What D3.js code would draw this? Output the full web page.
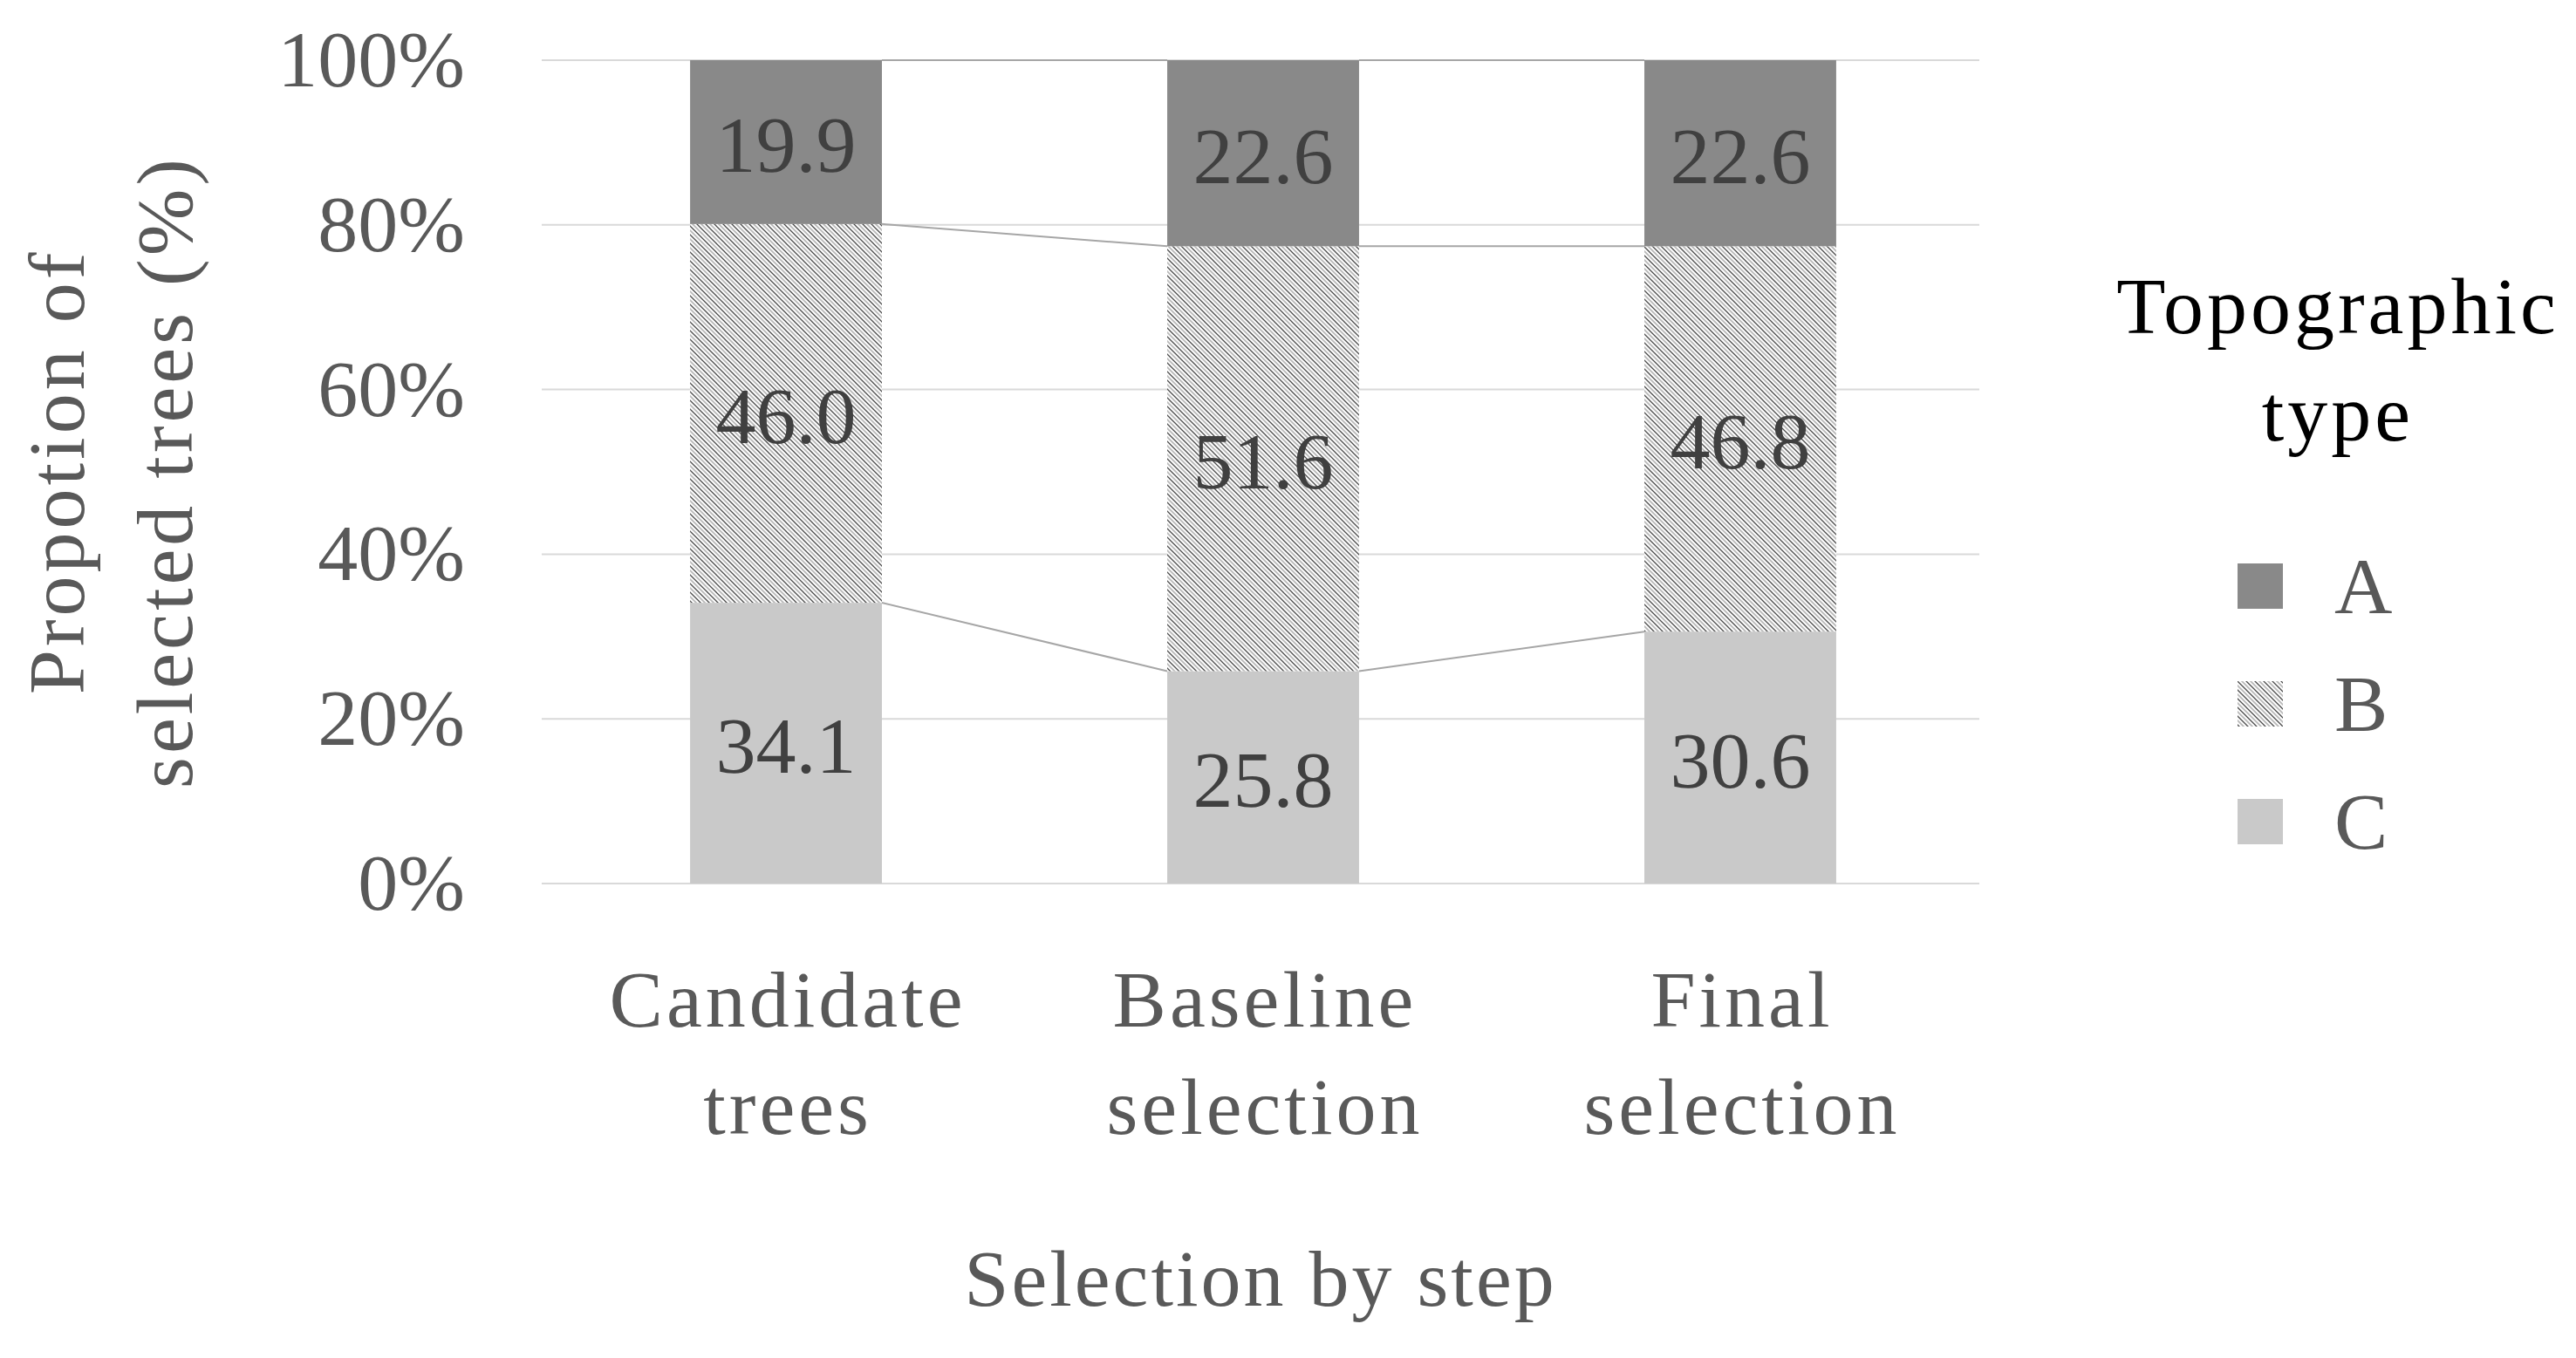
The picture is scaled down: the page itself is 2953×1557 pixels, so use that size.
<!DOCTYPE html>
<html>
<head>
<meta charset="utf-8">
<script src="https://cdn.jsdelivr.net/npm/d3@7"></script>
<style>
  body { margin: 0; background: #fff; }
  text { font-family: "Liberation Serif", serif; }
</style>
</head>
<body>
<svg id="chart" width="2953" height="1557"></svg>
<script>
const categories = ["Candidate trees", "Baseline selection", "Final selection"];
const stackKeys = ["C", "B", "A"]; // bottom to top
const valuesC = [34.1, 25.8, 30.6];
const valuesB = [46.0, 51.6, 46.8];
const valuesA = [19.9, 22.6, 22.6];
const yTicks = [0, 20, 40, 60, 80, 100];
const legendKeys = ["A", "B", "C"];

const svg = d3.select("#chart");
const margin = { top: 69, right: 684, bottom: 544, left: 621 };
const width = 2953 - margin.left - margin.right;
const height = 1557 - margin.top - margin.bottom;
const fontSize = 92;

// downward diagonal hatch for type B
const hp = 10;
const defs = svg.append("defs");
const hatch = defs
  .append("pattern")
  .attr("id", "hatch")
  .attr("patternUnits", "userSpaceOnUse")
  .attr("width", hp)
  .attr("height", hp);
hatch.append("rect").attr("width", hp).attr("height", hp).attr("fill", "#fff");
hatch
  .append("path")
  .attr("d", `M${hp / 2 - 1},-1L${hp + 1},${hp / 2 + 1}M-1,${hp / 2 - 1}L${hp / 2 + 1},${hp + 1}`)
  .attr("stroke", "#b8b8b8")
  .attr("stroke-width", 1.8);
hatch
  .append("path")
  .attr("d", `M-1,-1L${hp + 1},${hp + 1}M${hp - 1},-1L${hp + 1},1M-1,${hp - 1}L1,${hp + 1}`)
  .attr("stroke", "#4a4a4a")
  .attr("stroke-width", 1.3);

const fills = { A: "#898989", B: "url(#hatch)", C: "#c9c9c9" };

const rows = categories.map((c, i) => ({
  category: c,
  A: valuesA[i],
  B: valuesB[i],
  C: valuesC[i],
}));
const layers = d3.stack().keys(stackKeys)(rows);

const x = d3
  .scaleBand()
  .domain(categories)
  .range([6, width])
  .paddingInner(0.598)
  .paddingOuter(0.3);
const y = d3.scaleLinear().domain([0, 100]).range([height, 0]);

const g = svg
  .append("g")
  .attr("transform", `translate(${margin.left},${margin.top})`);

// gridlines
g.append("g")
  .selectAll("line")
  .data(yTicks)
  .enter()
  .append("line")
  .attr("x1", 0)
  .attr("x2", width)
  .attr("y1", (d) => y(d))
  .attr("y2", (d) => y(d))
  .attr("stroke", "#d9d9d9")
  .attr("stroke-width", 2);

// y axis labels
const yAxis = g
  .append("g")
  .call(
    d3
      .axisLeft(y)
      .tickValues(yTicks)
      .tickSize(0)
      .tickPadding(88)
      .tickFormat((d) => d + "%")
  );
yAxis.select(".domain").remove();
yAxis
  .selectAll("text")
  .attr("font-family", "Liberation Serif, serif")
  .attr("font-size", fontSize)
  .attr("fill", "#595959");

// series lines between bars
const seriesLines = [];
layers.forEach((layer) => {
  for (let i = 0; i < layer.length - 1; i++) {
    seriesLines.push({
      x1: x(categories[i]) + x.bandwidth(),
      x2: x(categories[i + 1]),
      y1: y(layer[i][1]),
      y2: y(layer[i + 1][1]),
    });
  }
});
g.append("g")
  .selectAll("line")
  .data(seriesLines)
  .enter()
  .append("line")
  .attr("x1", (d) => d.x1)
  .attr("x2", (d) => d.x2)
  .attr("y1", (d) => d.y1)
  .attr("y2", (d) => d.y2)
  .attr("stroke", "#a6a6a6")
  .attr("stroke-width", 2);

// bars
const layerGroup = g
  .append("g")
  .selectAll("g")
  .data(layers)
  .enter()
  .append("g")
  .attr("fill", (layer) => fills[layer.key]);

layerGroup
  .selectAll("rect")
  .data((layer) => layer)
  .enter()
  .append("rect")
  .attr("x", (d) => x(d.data.category))
  .attr("y", (d) => y(d[1]))
  .attr("width", x.bandwidth())
  .attr("height", (d) => y(d[0]) - y(d[1]));

layerGroup
  .selectAll("text")
  .data((layer) => layer)
  .enter()
  .append("text")
  .attr("x", (d) => x(d.data.category) + x.bandwidth() / 2)
  .attr("y", (d) => (y(d[0]) + y(d[1])) / 2 + fontSize * 0.37)
  .attr("text-anchor", "middle")
  .attr("font-size", fontSize)
  .attr("fill", "#404040")
  .text((d) => (d[1] - d[0]).toFixed(1));

// x axis labels (two lines)
const xLabels = g
  .append("g")
  .selectAll("text")
  .data(categories)
  .enter()
  .append("text")
  .attr("text-anchor", "middle")
  .attr("font-size", fontSize)
  .attr("letter-spacing", 4)
  .attr("fill", "#595959");
xLabels
  .selectAll("tspan")
  .data((c) => {
    const idx = c.indexOf(" ");
    return [c.slice(0, idx), c.slice(idx + 1)].map((t) => ({ t, c }));
  })
  .enter()
  .append("tspan")
  .attr("x", (d) => x(d.c) + x.bandwidth() / 2 + 2)
  .attr("y", (d, i) => height + 164 + i * 123)
  .text((d) => d.t);

// x axis title
g.append("text")
  .attr("x", width / 2)
  .attr("y", height + 484)
  .attr("text-anchor", "middle")
  .attr("font-size", fontSize)
  .attr("letter-spacing", 3)
  .attr("fill", "#595959")
  .text("Selection by step");

// y axis title
const yTitle = svg
  .append("text")
  .attr("transform", `translate(0,${margin.top + height / 2}) rotate(-90)`)
  .attr("text-anchor", "middle")
  .attr("font-size", fontSize)
  .attr("letter-spacing", 4)
  .attr("fill", "#595959");
["Propotion of", "selected trees (%)"].forEach((line, i) => {
  yTitle
    .append("tspan")
    .attr("x", 0)
    .attr("y", 96 + i * 124)
    .text(line);
});

// legend
const legend = svg.append("g");
["Topographic", "type"].forEach((line, i) => {
  legend
    .append("text")
    .attr("x", 2680)
    .attr("y", 382 + i * 123)
    .attr("text-anchor", "middle")
    .attr("font-size", fontSize)
    .attr("letter-spacing", 4)
    .attr("fill", "#000")
    .text(line);
});

const legendItem = legend
  .selectAll("g.item")
  .data(legendKeys)
  .enter()
  .append("g")
  .attr("class", "item")
  .attr("transform", (k, i) => `translate(2565,${646 + i * 135})`);

legendItem
  .append("rect")
  .attr("width", 52)
  .attr("height", 52)
  .attr("fill", (k) => fills[k]);

legendItem
  .append("text")
  .attr("x", 111)
  .attr("y", 26 + fontSize * 0.34)
  .attr("font-size", fontSize)
  .attr("fill", "#595959")
  .text((k) => k);
</script>
</body>
</html>
